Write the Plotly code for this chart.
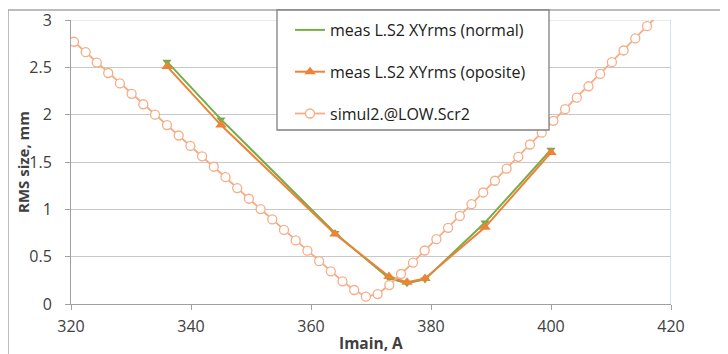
import plotly.graph_objects as go

# ---- data ----
meas_x = [336, 345, 364, 373, 376, 379, 389, 400]
meas_normal = [2.56, 1.95, 0.75, 0.27, 0.22, 0.26, 0.86, 1.63]
meas_oposite = [2.51, 1.89, 0.74, 0.29, 0.23, 0.27, 0.81, 1.60]

sim_x = [320.5, 322.45, 324.3, 326.2, 328.15, 330.1, 332.05, 334.0, 336.0, 337.95,
         339.9, 341.85, 343.8, 345.75, 347.7, 349.65, 351.6, 353.55, 355.5, 357.45,
         359.4, 361.35, 363.3, 365.25, 367.2, 369.15, 371.1, 373.05, 375.0, 377.0,
         378.95, 380.9, 382.85, 384.8, 386.75, 388.7, 390.65, 392.6, 394.55, 396.5,
         398.45, 400.4, 402.35, 404.3, 406.25, 408.2, 410.15, 412.1, 414.05, 416.0,
         417.95]
sim_y = [2.77, 2.66, 2.55, 2.44, 2.33, 2.22, 2.11, 2.00, 1.89, 1.78,
         1.67, 1.56, 1.45, 1.34, 1.225, 1.112, 1.003, 0.893, 0.782, 0.672,
         0.563, 0.452, 0.345, 0.240, 0.148, 0.077, 0.105, 0.200, 0.317, 0.437,
         0.565, 0.685, 0.805, 0.930, 1.055, 1.178, 1.302, 1.43, 1.555, 1.685,
         1.81, 1.935, 2.058, 2.18, 2.30, 2.43, 2.555, 2.678, 2.805, 2.935,
         3.06]

x_ticks = [320, 340, 360, 380, 400, 420]
y_ticks = [0, 0.5, 1, 1.5, 2, 2.5, 3]

names = ["meas L.S2 XYrms (normal)", "meas L.S2 XYrms (oposite)", "simul2.@LOW.Scr2"]

GREEN = "#79AC47"
ORANGE = "#EC8336"
SIM = "#F5AD86"
FONT = "Open Sans"
TXT = "#404040"

fig = go.Figure()
fig.add_trace(go.Scatter(
    x=meas_x, y=meas_normal, name=names[0], legendgroup="a", showlegend=False,
    mode="lines+markers", line=dict(color=GREEN, width=2),
    marker=dict(symbol="triangle-down", size=8, color=GREEN)))
# legend entry for the green series (line only, as in the original legend)
fig.add_trace(go.Scatter(
    x=[None], y=[None], name=names[0], legendgroup="a",
    mode="lines", line=dict(color=GREEN, width=2)))
fig.add_trace(go.Scatter(
    x=meas_x, y=meas_oposite, name=names[1], legendgroup="b",
    mode="lines+markers", line=dict(color=ORANGE, width=2),
    marker=dict(symbol="triangle-up", size=10, color=ORANGE)))
fig.add_trace(go.Scatter(
    x=sim_x, y=sim_y, name=names[2], legendgroup="c",
    mode="lines+markers", line=dict(color=SIM, width=1.8),
    marker=dict(symbol="circle", size=9, color="white",
                line=dict(color=SIM, width=1.3))))

shapes = [
    # outer chart border
    dict(type="rect", xref="paper", yref="paper", x0=-63 / 600, x1=1.3,
         y0=-0.5, y1=(296 - 2) / 284, line=dict(color="#a6a6a6", width=1.5),
         fillcolor="rgba(0,0,0,0)", layer="below"),
    # light blue top gridline and right border
    dict(type="line", xref="x", yref="y", x0=320, x1=420, y0=3, y1=3,
         line=dict(color="#c9d8ee", width=1), layer="below"),
    dict(type="line", xref="x", yref="y", x0=420, x1=420, y0=0, y1=3,
         line=dict(color="#c9d8ee", width=1.5), layer="below"),
    # legend box
    dict(type="rect", xref="paper", yref="paper",
         x0=(277 - 71) / 600, x1=(549 - 71) / 600,
         y0=(304 - 130) / 284, y1=(304 - 10) / 284,
         line=dict(color="#808080", width=1.3), fillcolor="white", layer="above"),
]

annotations = [
    dict(text="<b>RMS size, mm</b>", xref="paper", yref="paper",
         x=(23 - 71) / 600, y=0.5, xanchor="center", yanchor="middle",
         textangle=-90, showarrow=False,
         font=dict(family=FONT, size=15, color=TXT)),
    dict(text="<b>Imain, A</b>", xref="paper", yref="paper",
         x=(371 - 71) / 600, y=(304 - 343) / 284, xanchor="center", yanchor="middle",
         showarrow=False, font=dict(family=FONT, size=15.5, color=TXT)),
]

fig.update_layout(
    width=720, height=346,
    margin=dict(l=63, r=57, t=12, b=50, autoexpand=False),
    paper_bgcolor="white", plot_bgcolor="white",
    font=dict(family=FONT, size=16, color=TXT),
    shapes=shapes, annotations=annotations,
    showlegend=True,
    legend=dict(x=(290 - 71) / 600, y=(304 - 13) / 284, xanchor="left", yanchor="top",
                bgcolor="rgba(0,0,0,0)", borderwidth=0,
                tracegroupgap=18, font=dict(family=FONT, size=16, color="#202020")),
)
fig.update_xaxes(range=[320, 420], tickvals=x_ticks, ticks="outside", ticklen=5,
                 tickcolor="#a0a0a0", showline=True, linecolor="#a0a0a0",
                 showgrid=False, zeroline=False, ticklabelstandoff=3,
                 automargin=False, tickfont=dict(size=16))
fig.update_yaxes(range=[0, 3], tickvals=y_ticks, ticks="outside", ticklen=5,
                 tickcolor="#a0a0a0", showline=True, linecolor="#a0a0a0",
                 showgrid=True, gridcolor="#c8c8c8", gridwidth=1, zeroline=False,
                 ticklabelstandoff=10, automargin=False, tickfont=dict(size=16))

fig.write_html("out.html")
